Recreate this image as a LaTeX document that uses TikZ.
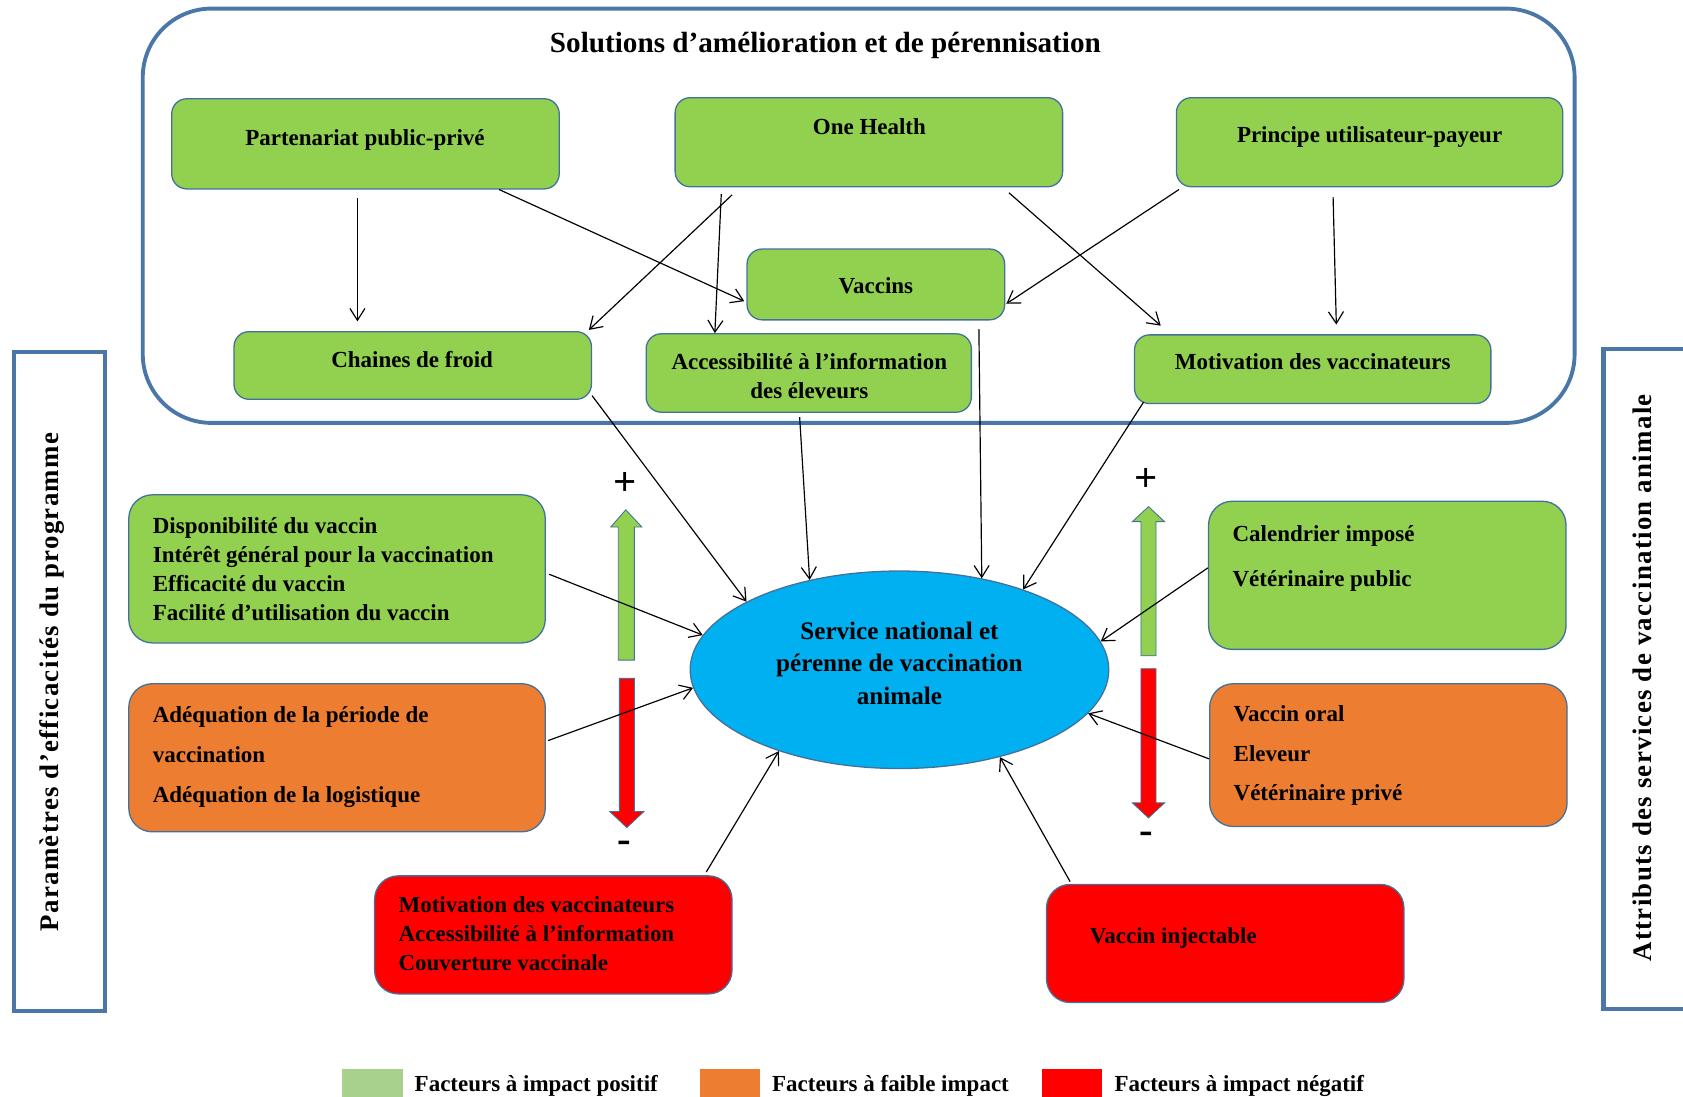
\documentclass[tikz,border=0pt]{standalone}
\usepackage{fontspec}
\setmainfont{Liberation Serif}
\usetikzlibrary{shapes.geometric, positioning, calc, arrows.meta}
\definecolor{boxgreen}{HTML}{92D050}
\definecolor{boxorange}{HTML}{ED7D31}
\definecolor{boxred}{HTML}{FF0000}
\definecolor{boxblue}{HTML}{00B0F0}
\definecolor{edgeblue}{HTML}{41719C}
\definecolor{frameblue}{HTML}{4A76A8}
\definecolor{keygreen}{HTML}{A9D18E}
\tikzset{
	basebox/.style={
			shape=rectangle,
			draw=edgeblue,
			line width=0.6pt,
			inner sep=0pt
		},
	solnode/.style={
			basebox,
			fill=boxgreen,
			rounded corners=7pt
		},
	posnode/.style={
			basebox,
			fill=boxgreen,
			rounded corners=11pt
		},
	lownode/.style={
			basebox,
			fill=boxorange,
			rounded corners=11pt
		},
	negnode/.style={
			basebox,
			fill=boxred,
			rounded corners=11pt
		},
	centrenode/.style={
			ellipse,
			draw=edgeblue,
			fill=boxblue,
			line width=0.6pt,
			inner sep=0pt,
			minimum width=195pt,
			minimum height=92pt
		},
	framenode/.style={
			shape=rectangle,
			draw=frameblue,
			line width=1.8pt,
			rounded corners=32pt,
			inner sep=0pt
		},
	sidenode/.style={
			shape=rectangle,
			draw=frameblue,
			line width=2pt,
			inner sep=0pt
		},
	keynode/.style={
			shape=rectangle,
			minimum width=28pt,
			minimum height=17pt,
			inner sep=0pt
		}
}
\tikzset{
	boxtext/.style={font=\fontsize{10.7}{13.5}\selectfont\bfseries, inner sep=0pt},
	listtext/.style={boxtext, align=left, anchor=west},
	titletext/.style={font=\fontsize{13.6}{16}\selectfont\bfseries, inner sep=0pt},
	centretext/.style={font=\fontsize{11.7}{15}\selectfont\bfseries, align=center, inner sep=0pt},
	sidetext/.style={font=\fontsize{12.5}{15}\selectfont\bfseries\addfontfeature{LetterSpace=5}, rotate=90, inner sep=0pt},
	signtext/.style={font=\fontsize{19}{19}\selectfont\bfseries, inner sep=0pt},
	uparrow/.style={draw=edgeblue, line width=0.4pt, fill=boxgreen},
	downarrow/.style={draw=edgeblue, line width=0.4pt, fill=boxred},
	link/.style={-{Straight Barb[length=5.5pt,width=7pt]}, line width=0.55pt}
}
\begin{document}
\begin{tikzpicture}[x=0.5pt, y=-0.5pt]
	\useasboundingbox (0,0) rectangle (1568,1022);

	% top frame
	\node[framenode, minimum width=667pt, minimum height=193pt] (sol) at (800,201) {};
	\node[titletext] (soltitle) at (769,42) {Solutions d’amélioration et de pérennisation};

	\node[solnode, minimum width=180.5pt, minimum height=42pt] (pp) at (340.5,134) {};
	\node[solnode, minimum width=180.5pt, minimum height=41.5pt] (oh) at (809.5,132.5) {};
	\node[solnode, minimum width=180pt, minimum height=41.5pt] (pu) at (1276,132.5) {};
	\node[solnode, minimum width=120pt, minimum height=33pt] (vac) at (816,265) {};
	\node[solnode, minimum width=166.5pt, minimum height=31.5pt] (cf) at (384.5,340.5) {};
	\node[solnode, minimum width=151.5pt, minimum height=36.5pt] (acc) at (753.5,347.5) {};
	\node[solnode, minimum width=166pt, minimum height=32pt] (mot) at (1223,344) {};

	\node[boxtext] (pptxt) at (340,130) {Partenariat public-privé};
	\node[boxtext] (ohtxt) at (810,118) {One Health};
	\node[boxtext] (putxt) at (1276,128) {Principe utilisateur-payeur};
	\node[boxtext] (vactxt) at (816,266) {Vaccins};
	\node[boxtext] (cftxt) at (384,335) {Chaines de froid};
	\node[boxtext, align=center] (acctxt) at (754,350) {Accessibilité à l’information\\des éleveurs};
	\node[boxtext] (mottxt) at (1223,337) {Motivation des vaccinateurs};

	% centre
	\node[centrenode] (serv) at (838,624) {};
	\node[centretext] (servtxt) at (838,618) {Service national et\\pérenne de vaccination\\animale};

	% factor boxes
	\node[posnode, minimum width=194pt, minimum height=69pt] (lg) at (314,530) {};
	\node[lownode, minimum width=194pt, minimum height=69pt] (lo) at (314,706) {};
	\node[negnode, minimum width=166.5pt, minimum height=55pt] (bl) at (515.5,871) {};
	\node[posnode, minimum width=166.5pt, minimum height=69pt] (rg) at (1292.5,536) {};
	\node[lownode, minimum width=166.5pt, minimum height=66.5pt] (ro) at (1293.5,703.5) {};
	\node[negnode, minimum width=166.5pt, minimum height=55pt] (br) at (1141.5,879) {};

	\node[listtext] (lgtxt) at (142,530) {Disponibilité du vaccin\\Intérêt général pour la vaccination\\Efficacité du vaccin\\Facilité d’utilisation du vaccin};
	\node[listtext] (lotxt) at (142,705.5) {Adéquation de la période de\\[5.25pt]vaccination\\[5.25pt]Adéquation de la logistique};
	\node[listtext] (bltxt) at (371,870) {Motivation des vaccinateurs\\Accessibilité à l’information\\Couverture vaccinale};
	\node[listtext] (rgtxt) at (1148,520) {Calendrier imposé\\[7.5pt]Vétérinaire public};
	\node[listtext] (rotxt) at (1149,704) {Vaccin oral\\[5pt]Eleveur\\[5pt]Vétérinaire privé};
	\node[listtext] (brtxt) at (1015,874) {Vaccin injectable};

	% block arrows
	\draw[uparrow] (576,615) -- (576,491) -- (569,491) -- (583,475) -- (598,491) -- (591,491) -- (591,615) -- cycle;
	\draw[downarrow] (577,632) -- (577,756) -- (568,756) -- (584,771) -- (600,756) -- (591,756) -- (591,632) -- cycle;
	\draw[uparrow] (1063,611) -- (1063,486) -- (1055,486) -- (1070,472) -- (1085,486) -- (1077,486) -- (1077,611) -- cycle;
	\draw[downarrow] (1063,623) -- (1063,748) -- (1055,748) -- (1070,762) -- (1085,748) -- (1077,748) -- (1077,623) -- cycle;
	\node[signtext] (plusl) at (582,451) {+};
	\node[signtext] (minusl) at (582,789) {-};
	\node[signtext] (plusr) at (1068,447) {+};
	\node[signtext] (minusr) at (1068,781) {-};

	% side frames
	\node[sidenode, minimum width=42.5pt, minimum height=307pt] (param) at (55.5,635) {};
	\node[sidetext] (paramtxt) at (48,635.5) {Paramètres d’efficacités du programme};
	\node[sidenode, minimum width=53pt, minimum height=307.5pt] (attr) at (1547,632.5) {};
	\node[sidetext] (attrtxt) at (1530,631.5) {Attributs des services de vaccination animale};

	% links
	\draw[link] ([shift={(-7.5,8)}]pp.south) -- ([shift={(-51.5,-9)}]cf.north);
	\draw[link] ([shift={(124.5,0)}]pp.south) -- ([shift={(-2,-18)}]vac.south west);
	\draw[link] ([shift={(-127.5,7)}]oh.south) -- ([shift={(-3,-1)}]cf.north east);
	\draw[link] ([shift={(-137.5,6)}]oh.south) -- ([shift={(-87.5,0)}]acc.north);
	\draw[link] ([shift={(130.5,5)}]oh.south) -- ([shift={(25,-8)}]mot.north west);
	\draw[link] ([shift={(3,2)}]pu.south west) -- ([shift={(1,18)}]vac.east);
	\draw[link] ([shift={(-34,9)}]pu.south) -- ([shift={(22,-9)}]mot.north);

	\draw[link] ([shift={(96,8)}]vac.south) -- (serv.48.5);
	\draw[link] ([shift={(0,-4)}]cf.south east) -- (serv.156);
	\draw[link] ([shift={(-8.5,4)}]acc.south) -- (serv.135);
	\draw[link] ([shift={(9,-2)}]mot.south west) -- (serv.33);
	\draw[link] ([shift={(3,5)}]lg.east) -- (serv.170);
	\draw[link] ([shift={(2,-16)}]lo.east) -- (serv.185.5);
	\draw[link] ([shift={(142.5,-3)}]bl.north) -- (serv.214);
	\draw[link] ([shift={(0,-7)}]rg.west) -- (serv.8);
	\draw[link] ([shift={(0,3.5)}]ro.west) -- (serv.347.6);
	\draw[link] ([shift={(-144.5,-2)}]br.north) -- (serv.319.4);

	% legend
	\node[keynode, fill=keygreen] (keypos) at (347,1013) {};
	\node[keynode, fill=boxorange] (keylow) at (680,1013) {};
	\node[keynode, fill=boxred] (keyneg) at (999,1013) {};
	\node[boxtext, anchor=west] (keypostxt) at (386,1012) {Facteurs à impact positif};
	\node[boxtext, anchor=west] (keylowtxt) at (719,1012) {Facteurs à faible impact};
	\node[boxtext, anchor=west] (keynegtxt) at (1038,1012) {Facteurs à impact négatif};
\end{tikzpicture}
\end{document}
